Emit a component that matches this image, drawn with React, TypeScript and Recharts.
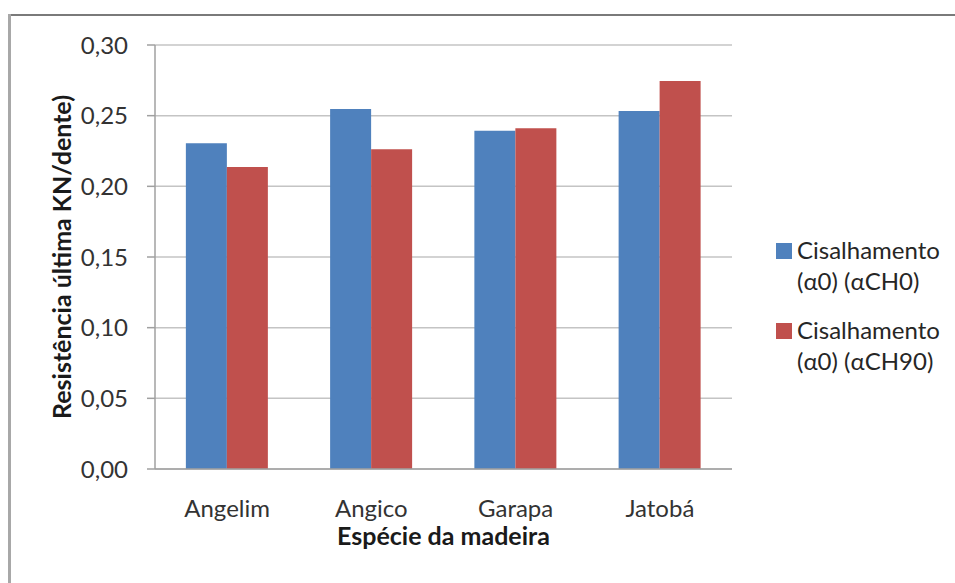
import { BarChart, Bar, XAxis, YAxis, CartesianGrid } from "recharts";

const species = ["Angelim", "Angico", "Garapa", "Jatobá"];
const seriesNames = ["Cisalhamento (α0) (αCH0)", "Cisalhamento (α0) (αCH90)"];
const ch0 = [0.2305, 0.2547, 0.2394, 0.2533];
const ch90 = [0.2137, 0.2262, 0.2411, 0.2745];
const yTicks = [0, 0.05, 0.1, 0.15, 0.2, 0.25, 0.3];
const colors = ["#4F81BD", "#C0504D"];

const data = species.map((name, i) => ({ name, ch0: ch0[i], ch90: ch90[i] }));

const font = "Lato, 'Open Sans', sans-serif";
const fmt = (v: number) => v.toFixed(2).replace(".", ",");

function SideLegend() {
  return (
    <div
      style={{
        position: "absolute",
        left: 776,
        top: 234,
        fontFamily: font,
        fontSize: 24,
        lineHeight: "31px",
        color: "#262626",
      }}
    >
      {seriesNames.map((n, i) => {
        const cut = n.indexOf(" ");
        return (
          <div key={n} style={{ position: "relative", height: 80 }}>
            <span
              style={{
                position: "absolute",
                left: 0,
                top: 9,
                width: 16,
                height: 16,
                background: colors[i],
              }}
            />
            <div style={{ position: "absolute", left: 21, top: 0, whiteSpace: "nowrap" }}>
              {n.slice(0, cut)}
              <br />
              {n.slice(cut + 1)}
            </div>
          </div>
        );
      })}
    </div>
  );
}

export default function App() {
  return (
    <div
      style={{
        position: "fixed",
        left: 0,
        top: 0,
        width: 955,
        height: 583,
        background: "#fff",
        overflow: "hidden",
      }}
    >
      {/* frame: only the top and left edges are inside the picture */}
      <div style={{ position: "absolute", left: 8, top: 14, width: 947, height: 2, background: "#7a7a7a" }} />
      <div style={{ position: "absolute", left: 8, top: 14, width: 3, height: 569, background: "#a8a8a8" }} />
      <BarChart
        width={955}
        height={583}
        data={data}
        margin={{ top: 45, right: 223, bottom: 24, left: 55 }}
        barGap={0}
        barCategoryGap="21.4%"
        style={{ position: "absolute", left: 0, top: 0, fontFamily: font }}
      >
        <CartesianGrid vertical={false} stroke="#c4c4c4" strokeWidth={1.5} />
        <XAxis
          dataKey="name"
          height={90}
          axisLine={{ stroke: "#a0a0a0", strokeWidth: 1.5 }}
          tickLine={false}
          tickSize={0}
          tickMargin={31}
          tick={{ fontSize: 24, fill: "#333", fontFamily: font }}
          label={{
            value: "Espécie da madeira",
            position: "insideBottom",
            offset: 14,
            style: { fontSize: 25, fontWeight: 700, fill: "#1a1a1a", fontFamily: font },
          }}
        />
        <YAxis
          width={100}
          domain={[0, 0.3]}
          ticks={yTicks}
          tickFormatter={fmt}
          axisLine={{ stroke: "#a0a0a0", strokeWidth: 1.5 }}
          tickLine={{ stroke: "#a0a0a0", strokeWidth: 1.5 }}
          tickSize={8}
          tickMargin={19}
          tick={{ fontSize: 24, fill: "#333", fontFamily: font }}
          label={{
            value: "Resistência última KN/dente)",
            angle: -90,
            position: "insideLeft",
            offset: 7,
            style: {
              textAnchor: "middle",
              fontSize: 25,
              fontWeight: 700,
              fill: "#1a1a1a",
              fontFamily: font,
            },
          }}
        />
        <Bar dataKey="ch0" name={seriesNames[0]} fill={colors[0]} isAnimationActive={false} />
        <Bar dataKey="ch90" name={seriesNames[1]} fill={colors[1]} isAnimationActive={false} />
      </BarChart>
      <SideLegend />
    </div>
  );
}
